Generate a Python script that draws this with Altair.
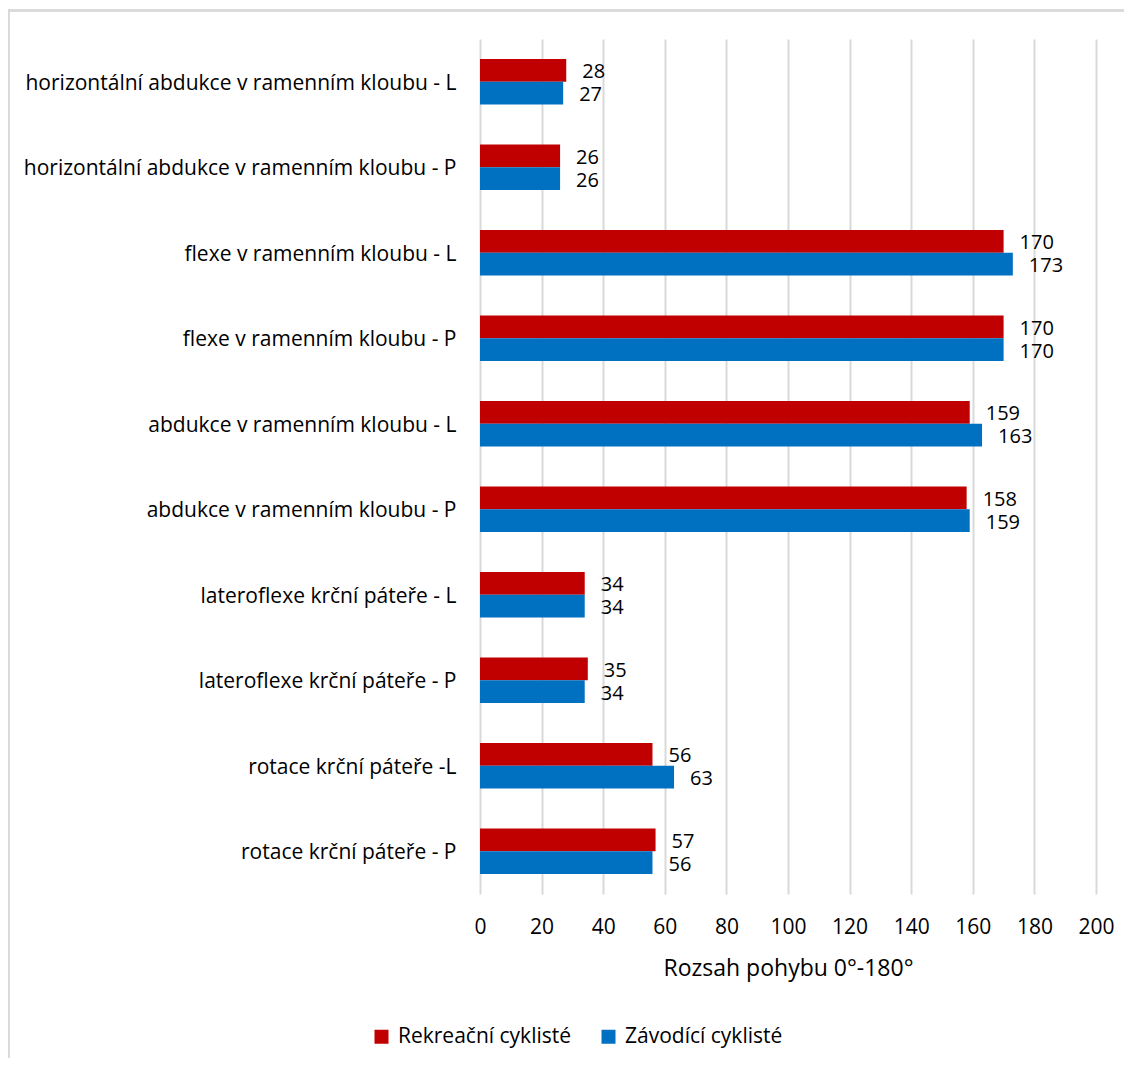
import altair as alt
import pandas as pd

categories = [
    "horizontální abdukce v ramenním kloubu - L",
    "horizontální abdukce v ramenním kloubu - P",
    "flexe v ramenním kloubu - L",
    "flexe v ramenním kloubu - P",
    "abdukce v ramenním kloubu - L",
    "abdukce v ramenním kloubu - P",
    "lateroflexe krční páteře - L",
    "lateroflexe krční páteře - P",
    "rotace krční páteře -L",
    "rotace krční páteře - P",
]
series = ["Rekreační cyklisté", "Závodící cyklisté"]
rekreacni = [28, 26, 170, 170, 159, 158, 34, 35, 56, 57]
zavodici = [27, 26, 173, 170, 163, 159, 34, 34, 63, 56]
colors = ["#C00000", "#0070C0"]
x_ticks = list(range(0, 201, 20))

rows = []
for c, r, z in zip(categories, rekreacni, zavodici):
    rows.append({"kat": c, "skupina": series[0], "hodnota": r})
    rows.append({"kat": c, "skupina": series[1], "hodnota": z})
df = pd.DataFrame(rows)

FONT = "Open Sans"
FS = 21

y_enc = alt.Y("kat:N", sort=categories,
              scale=alt.Scale(paddingInner=0.47, paddingOuter=0.235),
              axis=alt.Axis(title=None, ticks=False, domain=False, grid=False,
                            labelFontSize=FS, labelColor="#000000", labelFont=FONT,
                            labelPadding=24, labelLimit=600, labelOffset=2))
x_enc = alt.X("hodnota:Q",
              scale=alt.Scale(domain=[0, 200], nice=False),
              axis=alt.Axis(title="Rozsah pohybu 0°-180°", values=x_ticks,
                            ticks=False, domain=False, grid=True,
                            gridColor="#D9D9D9", gridWidth=2, labelFlush=False,
                            labelFontSize=FS, labelColor="#000000", labelFont=FONT,
                            labelPadding=22, titleFontSize=23, titleFont=FONT,
                            titleFontWeight="normal", titleColor="#000000",
                            titlePadding=20))
yoff = alt.YOffset("skupina:N", sort=series, scale=alt.Scale(domain=series, paddingInner=0, paddingOuter=0))

bars = alt.Chart(df).mark_bar().encode(
    y=y_enc,
    x=x_enc,
    yOffset=yoff,
    color=alt.Color("skupina:N", sort=series,
                    scale=alt.Scale(domain=series, range=colors),
                    legend=alt.Legend(title=None, orient="none", direction="horizontal",
                                      legendX=-109, legendY=987,
                                      symbolType="square", symbolSize=196,
                                      symbolStrokeWidth=0, labelLimit=400,
                                      labelFontSize=FS, labelFont=FONT, labelColor="#000000",
                                      columnPadding=26, labelOffset=6)),
)

labels = alt.Chart(df).mark_text(align="left", baseline="middle", dx=16, dy=2,
                                 fontSize=20, font=FONT, color="#000000").encode(
    y=alt.Y("kat:N", sort=categories),
    x=alt.X("hodnota:Q"),
    yOffset=yoff,
    text=alt.Text("hodnota:Q"),
)

frame = alt.Chart(df).mark_rect(fill="transparent", stroke="#D9D9D9", strokeWidth=1.5).encode(
    x=alt.value(-471.5), x2=alt.value(2000),
    y=alt.value(-28.5), y2=alt.value(3000),
)

chart = alt.layer(frame, bars, labels).properties(
    width=616, height=855,
    autosize=alt.AutoSizeParams(type="none"),
    padding={"left": 472, "top": 31, "right": 28, "bottom": 164},
).configure_view(stroke=None)

chart.save("out.html", embed_options={"renderer": "svg", "actions": False})
